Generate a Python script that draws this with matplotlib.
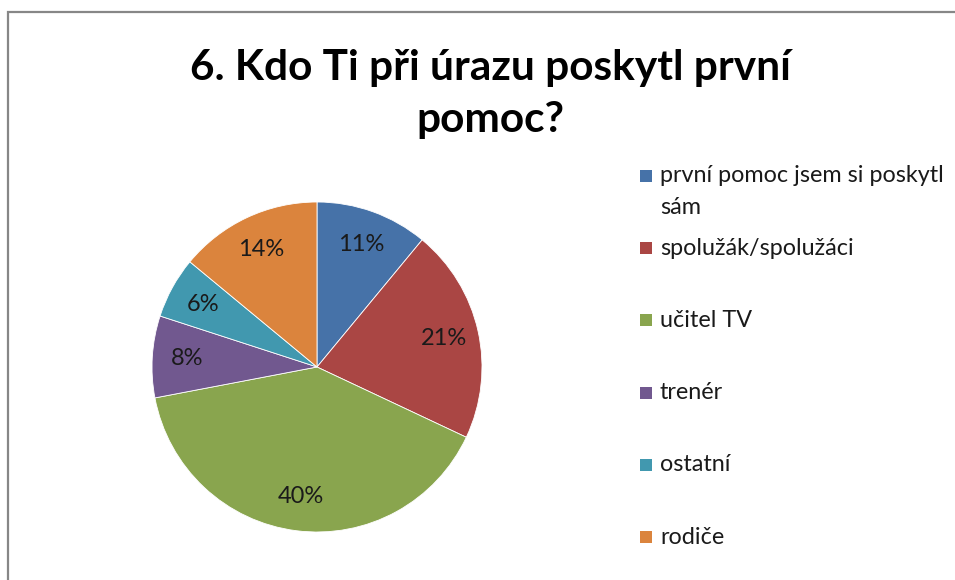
import matplotlib.pyplot as plt
from matplotlib.patches import Rectangle

labels = ['první pomoc jsem si poskytl\nsám', 'spolužák/spolužáci', 'učitel TV',
          'trenér', 'ostatní', 'rodiče']
shares = [11, 21, 40, 8, 6, 14]
colors = ['#4672A8', '#AA4644', '#89A54E', '#71588F', '#4198AF', '#DB843D']

plt.rcParams['font.family'] = ['Lato', 'DejaVu Sans']

W, H = 955, 580
fig = plt.figure(figsize=(W / 100, H / 100), dpi=100)

# grey chart border (cut off at right and bottom like the screenshot)
fig.patches.append(Rectangle((7.5 / W, -0.05), 1.1, 1 - 11.5 / H + 0.05,
                             transform=fig.transFigure, fill=False,
                             edgecolor='#878787', linewidth=1.6))

fig.text(490 / W, 1 - 94 / H, '6. Kdo Ti při úrazu poskytl první\npomoc?',
         ha='center', va='center', fontsize=30.5, fontweight='bold',
         linespacing=1.45, color='black')

# pie
cx, cy, r = 317, 367, 165
ax = fig.add_axes([(cx - r) / W, (H - cy - r) / H, 2 * r / W, 2 * r / H])
ax.pie(shares, colors=colors, startangle=90, counterclock=False,
       autopct='%d%%', pctdistance=0.79,
       wedgeprops=dict(edgecolor='white', linewidth=0.6),
       textprops=dict(fontsize=17, color='#1a1a1a'))
ax.set_xlim(-1, 1)
ax.set_ylim(-1, 1)
ax.set_aspect('equal')
ax.axis('off')

# legend drawn by hand
y0, step = 176, 72.2
for i, (lab, c) in enumerate(zip(labels, colors)):
    y = y0 + i * step
    fig.patches.append(Rectangle((640 / W, 1 - (y + 6) / H), 12 / W, 12 / H,
                                 transform=fig.transFigure, facecolor=c,
                                 edgecolor='none'))
    lines = lab.split('\n')
    for j, line in enumerate(lines):
        fig.text(660 / W, 1 - (y + j * 31) / H, line, ha='left', va='center',
                 fontsize=16.8, color='#1a1a1a')

fig.savefig('out.png', dpi=100)
